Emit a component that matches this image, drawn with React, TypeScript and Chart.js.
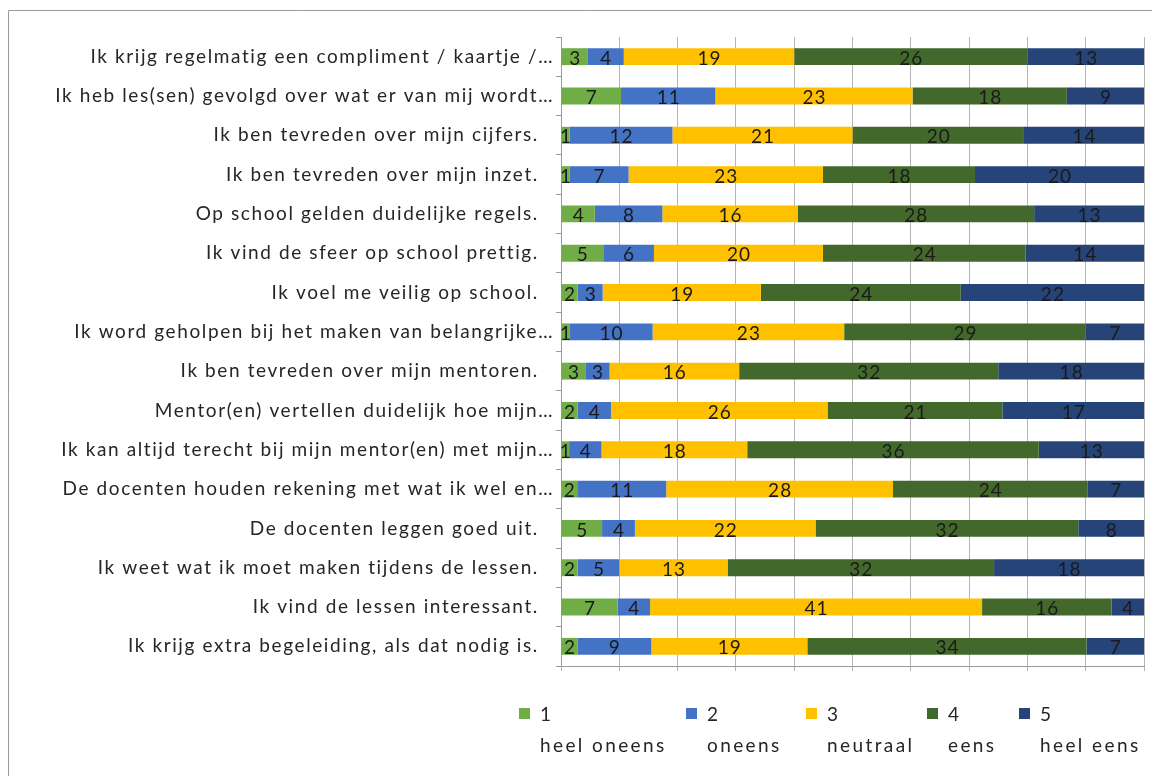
import React, { useEffect, useRef } from "react";
import { Chart, registerables } from "chart.js";

Chart.register(...registerables);

const categories: string[] = [
  "Ik krijg regelmatig een compliment / kaartje /…",
  "Ik heb les(sen) gevolgd over wat er van mij wordt…",
  "Ik ben tevreden over mijn cijfers.",
  "Ik ben tevreden over mijn inzet.",
  "Op school gelden duidelijke regels.",
  "Ik vind de sfeer op school prettig.",
  "Ik voel me veilig op school.",
  "Ik word geholpen bij het maken van belangrijke…",
  "Ik ben tevreden over mijn mentoren.",
  "Mentor(en) vertellen duidelijk hoe mijn…",
  "Ik kan altijd terecht bij mijn mentor(en) met mijn…",
  "De docenten houden rekening met wat ik wel en…",
  "De docenten leggen goed uit.",
  "Ik weet wat ik moet maken tijdens de lessen.",
  "Ik vind de lessen interessant.",
  "Ik krijg extra begeleiding, als dat nodig is.",
];

const heelOneens: number[] = [3, 7, 1, 1, 4, 5, 2, 1, 3, 2, 1, 2, 5, 2, 7, 2];
const oneens: number[] = [4, 11, 12, 7, 8, 6, 3, 10, 3, 4, 4, 11, 4, 5, 4, 9];
const neutraal: number[] = [19, 23, 21, 23, 16, 20, 19, 23, 16, 26, 18, 28, 22, 13, 41, 19];
const eens: number[] = [26, 18, 20, 18, 28, 24, 24, 29, 32, 21, 36, 24, 32, 32, 16, 34];
const heelEens: number[] = [13, 9, 14, 20, 13, 14, 22, 7, 18, 17, 13, 7, 8, 18, 4, 7];

const seriesNumbers: string[] = ["1", "2", "3", "4", "5"];
const seriesNames: string[] = ["heel oneens", "oneens", "neutraal", "eens", "heel eens"];
const seriesColors: string[] = ["#70AD47", "#4472C4", "#FFC000", "#43682B", "#264478"];

const FONT = "Lato, 'Open Sans', sans-serif";
const SPACING = "1.6px";

export default function App() {
  const ref = useRef<HTMLCanvasElement | null>(null);

  useEffect(() => {
    if (!ref.current) return;
    const series = [heelOneens, oneens, neutraal, eens, heelEens];
    const totals = categories.map((_, i) => series.reduce((s, arr) => s + arr[i], 0));

    const datasets = series.map((arr, k) => ({
      label: seriesNumbers[k],
      data: arr.map((v, i) => (v / totals[i]) * 100),
      counts: arr,
      backgroundColor: seriesColors[k],
      borderWidth: 0,
      categoryPercentage: 1,
      barPercentage: 0.43,
    }));

    const spacing = {
      id: "spacing",
      beforeDraw(chart: any) {
        (chart.ctx as any).letterSpacing = SPACING;
      },
    };

    const valueLabels = {
      id: "valueLabels",
      afterDatasetsDraw(chart: any) {
        const ctx = chart.ctx;
        ctx.save();
        (ctx as any).letterSpacing = "1px";
        ctx.font = `19px ${FONT}`;
        ctx.fillStyle = "#1a1a1a";
        ctx.textAlign = "center";
        ctx.textBaseline = "middle";
        chart.data.datasets.forEach((ds: any, di: number) => {
          const meta = chart.getDatasetMeta(di);
          meta.data.forEach((el: any, i: number) => {
            const c = ds.counts[i];
            if (!c) return;
            const cx = (el.x + el.base) / 2;
            ctx.fillText(String(c), cx + 0.5, el.y + 2);
          });
        });
        ctx.restore();
      },
    };

    const legendXs = [511, 678, 798, 919, 1011];
    const customLegend = {
      id: "customLegend",
      afterDraw(chart: any) {
        const ctx = chart.ctx;
        ctx.save();
        (ctx as any).letterSpacing = "2.4px";
        ctx.font = `19px ${FONT}`;
        ctx.textBaseline = "middle";
        ctx.textAlign = "left";
        chart.data.datasets.forEach((ds: any, k: number) => {
          const x = legendXs[k];
          ctx.fillStyle = ds.backgroundColor;
          ctx.fillRect(x, 700, 11, 11);
          ctx.fillStyle = "#262626";
          ctx.fillText(seriesNumbers[k], x + 21, 707);
          ctx.fillText(seriesNames[k], x + 21, 738);
        });
        ctx.strokeStyle = "#9a9a9a";
        ctx.lineWidth = 1;
        ctx.beginPath();
        ctx.moveTo(0.5, chart.height);
        ctx.lineTo(0.5, 2.5);
        ctx.lineTo(chart.width, 2.5);
        ctx.stroke();
        ctx.restore();
        (ctx as any).letterSpacing = "0px";
      },
    };

    const chart = new Chart(ref.current, {
      type: "bar",
      data: { labels: categories, datasets: datasets as any },
      options: {
        indexAxis: "y",
        responsive: false,
        animation: false,
        layout: { padding: { top: 29, right: 16, bottom: 105, left: 0 } },
        plugins: {
          legend: { display: false },
          tooltip: { enabled: false },
        },
        scales: {
          x: {
            stacked: true,
            min: 0,
            max: 100,
            ticks: { display: false, stepSize: 10 },
            grid: {
              color: "#b5b5b5",
              lineWidth: 1,
              drawTicks: true,
              tickLength: 5,
            },
            border: { color: "#9a9a9a" },
          },
          y: {
            stacked: true,
            afterFit(scale: any) {
              scale.width = 553;
            },
            ticks: {
              color: "#262626",
              font: { family: FONT, size: 19 },
              padding: 2,
              autoSkip: false,
              callback(this: any, value: any) {
                const lbl = String(this.getLabelForValue(value));
                return lbl.endsWith("…") ? lbl : lbl + "\u2002\u2009";
              },
            },
            grid: {
              drawOnChartArea: false,
              drawTicks: true,
              tickLength: 5,
              color: "#9a9a9a",
            },
            border: { color: "#9a9a9a" },
          },
        },
      },
      plugins: [spacing, valueLabels, customLegend],
    });
    return () => chart.destroy();
  }, []);

  return (
    <div style={{ width: 1152, height: 768 }}>
      <canvas ref={ref} width={1152} height={768} style={{ display: "block" }} />
    </div>
  );
}
